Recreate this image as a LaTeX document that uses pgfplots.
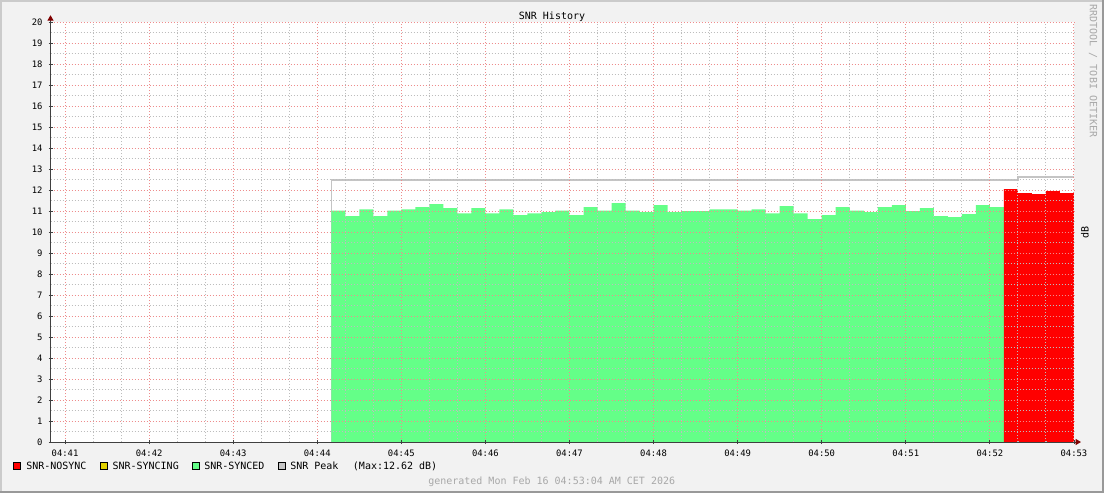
\documentclass[border=0pt]{standalone}
\usepackage{pgfplots}
\pgfplotsset{compat=1.18}
\usetikzlibrary{arrows.meta}
\usepackage{fontspec}
\setmainfont{DejaVu Sans Mono}

\definecolor{rrdback}{HTML}{F2F2F2}
\definecolor{shadea}{HTML}{CBCBCB}
\definecolor{shadeb}{HTML}{999999}
\definecolor{gridc}{HTML}{BDBDBD}
\definecolor{mgridc}{HTML}{EE8C8C}
\definecolor{axisc}{HTML}{404040}
\definecolor{arrowc}{HTML}{800000}
\definecolor{synced}{HTML}{64FF88}
\definecolor{nosync}{HTML}{FF0000}
\definecolor{syncing}{HTML}{E2D200}
\definecolor{peak}{HTML}{C4C4C4}
\definecolor{faint}{HTML}{A8A8A8}

\newcommand\axfont{\fontsize{6.65pt}{7pt}\selectfont}
\newcommand\txfont{\fontsize{7.5pt}{8pt}\selectfont}

% x is counted in 10 s steps from 04:41:00
\begin{document}
\begin{tikzpicture}
\useasboundingbox (0,0) rectangle (828pt,-369.75pt);
\begin{scope}[x=0.75pt,y=-0.75pt]
  \fill[rrdback] (0,0) rectangle (1104,493);
  \fill[shadea] (0,0) rectangle (1104,2);
  \fill[shadea] (0,0) rectangle (2,493);
  \fill[shadeb] (0,491) rectangle (1104,493);
  \fill[shadeb] (1102,0) rectangle (1104,493);
\end{scope}

\begin{axis}[
  at={(37.875pt,-331.5pt)}, anchor=south west,
  scale only axis, width=767.6pt, height=314.8pt,
  xmin=-1.036, xmax=72, ymin=0, ymax=20,
  axis on top,
  axis background/.style={fill=white},
  axis x line*=bottom, axis y line*=left,
  x axis line style={draw=axisc, line width=0.75pt,
    -{Triangle[length=4pt,width=4.5pt,color=arrowc]}, shorten >=-5.25pt},
  y axis line style={draw=axisc, line width=0.75pt,
    -{Triangle[length=4pt,width=4.5pt,color=arrowc]}, shorten >=-5.25pt},
  xtick={0,6,...,72},
  xticklabels={04:41,04:42,04:43,04:44,04:45,04:46,04:47,04:48,04:49,04:50,04:51,04:52,04:53},
  ytick={0,1,...,20},
  minor xtick={2,4,8,10,14,16,20,22,26,28,32,34,38,40,44,46,50,52,56,58,62,64,68,70},
  minor ytick={0.5,1.5,...,19.5},
  grid=both,
  major grid style={draw=mgridc, line width=0.75pt, dash pattern=on 0.75pt off 1.5pt},
  minor grid style={draw=gridc, line width=0.75pt, dash pattern=on 0.75pt off 1.5pt},
  tick align=center,
  major tick length=3pt, minor tick length=1.5pt,
  major tick style={draw=axisc, line width=0.6pt},
  minor tick style={draw=gridc, line width=0.6pt},
  ticklabel style={font=\axfont, text=black},
  /pgf/number format/assume math mode=true,
  xticklabel style={yshift=-1pt},
  yticklabel style={xshift=-1pt},
]
% peak line
\addplot[draw=peak, line width=1.1pt, const plot mark left] coordinates {
  (19,0) (19,12.48) (68,12.62) (72,12.62)
};
% SNR-SYNCED
\addplot[fill=synced, draw=none, const plot mark left] coordinates {
  (19,11.03) (20,10.76) (21,11.08) (22,10.76) (23,11.03) (24,11.08)
  (25,11.19) (26,11.33) (27,11.14) (28,10.90) (29,11.14) (30,10.90)
  (31,11.08) (32,10.81) (33,10.90) (34,10.95) (35,11.03) (36,10.81)
  (37,11.19) (38,11.03) (39,11.38) (40,11.03) (41,10.95) (42,11.29)
  (43,10.95) (44,11.00) (45,11.00) (46,11.08) (47,11.08) (48,11.03)
  (49,11.08) (50,10.90) (51,11.24) (52,10.90) (53,10.62) (54,10.81)
  (55,11.19) (56,11.03) (57,10.95) (58,11.19) (59,11.29) (60,11.00)
  (61,11.14) (62,10.76) (63,10.71) (64,10.86) (65,11.29) (66,11.19)
  (67,11.19)
} \closedcycle;
% SNR-NOSYNC
\addplot[fill=nosync, draw=none, const plot mark left] coordinates {
  (67,12.05) (68,11.86) (69,11.81) (70,11.95) (71,11.86) (72,11.86)
} \closedcycle;
\end{axis}

\begin{scope}[x=0.75pt,y=-0.75pt, every node/.style={font=\txfont, inner sep=0pt}]
  \node[anchor=base] at (552,19) {SNR History};
  \node[rotate=-90, text=faint] at (1093,71) {RRDTOOL / TOBI OETIKER};
  \node[rotate=90] at (1085,232) {dB};
  % legend
  \filldraw[fill=nosync, draw=black, line width=0.75pt] (13.5,462.8) rectangle (20.5,469.8);
  \node[anchor=base west] at (26,469.5) {SNR-NOSYNC};
  \filldraw[fill=syncing, draw=black, line width=0.75pt] (100,462.8) rectangle (107,469.8);
  \node[anchor=base west] at (112.3,469.5) {SNR-SYNCING};
  \filldraw[fill=synced, draw=black, line width=0.75pt] (192,462.8) rectangle (199,469.8);
  \node[anchor=base west] at (204,469.5) {SNR-SYNCED};
  \filldraw[fill=peak, draw=black, line width=0.75pt] (278,462.8) rectangle (285,469.8);
  \node[anchor=base west] at (290,469.5) {SNR Peak};
  \node[anchor=base west] at (352.7,469.5) {(Max:12.62 dB)};
  \node[anchor=base, text=faint] at (551.7,484.5) {generated Mon Feb 16 04:53:04 AM CET 2026};
\end{scope}
\end{tikzpicture}
\end{document}
